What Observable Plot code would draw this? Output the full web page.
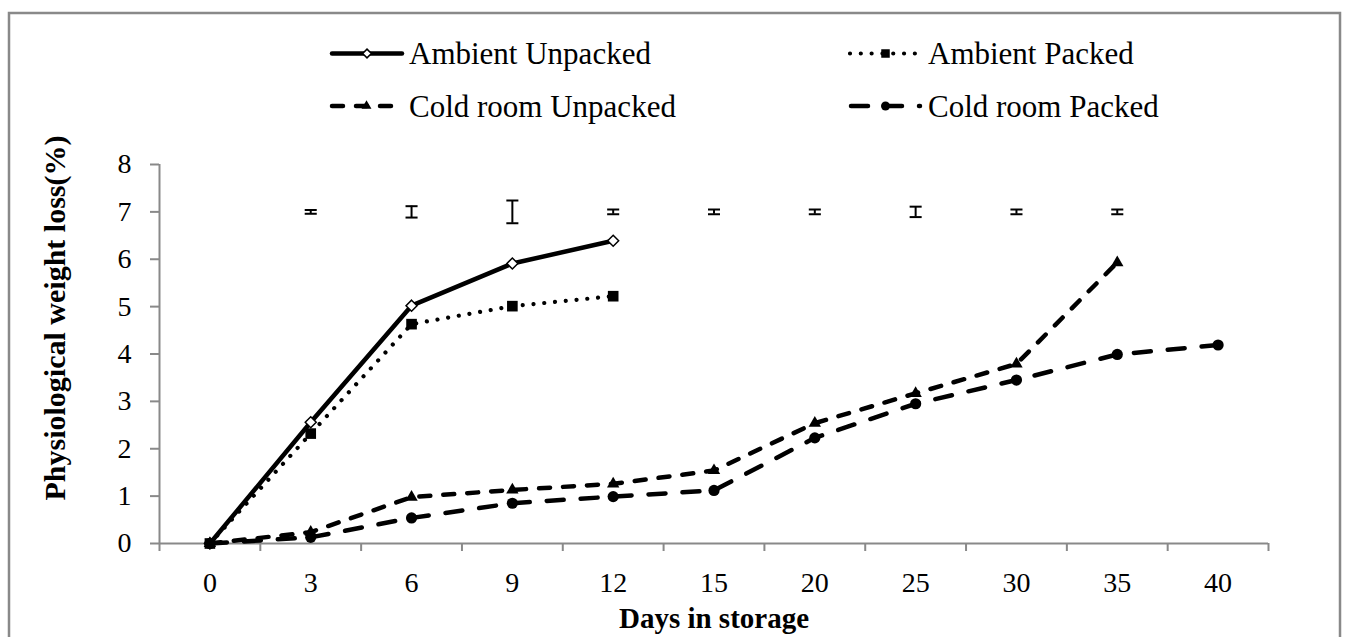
<!DOCTYPE html>
<html>
<head>
<meta charset="utf-8">
<script src="https://cdn.jsdelivr.net/npm/d3@7"></script>
<script src="https://cdn.jsdelivr.net/npm/@observablehq/plot@0.6"></script>
<style>
html, body { margin: 0; padding: 0; background: #fff; }
#chart { position: relative; width: 1348px; height: 637px; overflow: hidden; }
</style>
</head>
<body>
<div id="chart"></div>
<script>
// ---- data ----
const days = ["0", "3", "6", "9", "12", "15", "20", "25", "30", "35", "40"];
const seriesNames = ["Ambient Unpacked", "Ambient Packed", "Cold room Unpacked", "Cold room Packed"];
const ambientUnpacked = [0, 2.56, 5.02, 5.91, 6.39];
const ambientPacked = [0, 2.32, 4.63, 5.01, 5.22];
const coldUnpacked = [0, 0.24, 0.98, 1.13, 1.26, 1.54, 2.54, 3.17, 3.79, 5.93];
const coldPacked = [0, 0.13, 0.54, 0.85, 0.99, 1.12, 2.23, 2.95, 3.45, 3.99, 4.19];
const errDays = ["3", "6", "9", "12", "15", "20", "25", "30", "35"];
const errCenter = [7, 7, 7, 7, 7, 7, 7, 7, 7];
const errHalf = [0.04, 0.12, 0.24, 0.05, 0.05, 0.05, 0.11, 0.05, 0.05];
const yTicks = [0, 1, 2, 3, 4, 5, 6, 7, 8];
const xTitle = "Days in storage";
const yTitle = "Physiological weight loss(%)";

// ---- styles ----
const W = 1348, H = 637;
const gray = "#898989";
const serif = "'Liberation Serif', 'Times New Roman', serif";
const seriesValues = [ambientUnpacked, ambientPacked, coldUnpacked, coldPacked];
const seriesStyle = [
  {dash: null, width: 4.5, cap: "round", symbol: "diamond2", d3sym: d3.symbolDiamond2, fill: "white", r: 4.95, msw: 1.5},
  {dash: "0.01,10.8", width: 4.2, cap: "round", symbol: "square", d3sym: d3.symbolSquare, fill: "black", r: 6.0, msw: 0},
  {dash: "11,13", width: 4.5, cap: "round", symbol: "triangle", d3sym: d3.symbolTriangle, fill: "black", r: 4.6, msw: 0},
  {dash: "17,17", width: 4.5, cap: "round", symbol: "circle", d3sym: d3.symbolCircle, fill: "black", r: 5.6, msw: 0}
];

const xi = d => days.indexOf(d.day);
const seriesRows = seriesValues.map((vals, s) =>
  vals.map((v, i) => ({series: seriesNames[s], day: days[i], value: v})));
const errRows = errDays.map((d, i) => ({day: d, lo: errCenter[i] - errHalf[i], hi: errCenter[i] + errHalf[i]}));
const capRows = errRows.flatMap(e => [{day: e.day, y: e.lo}, {day: e.day, y: e.hi}]);
const capSymbol = {draw(ctx, size) { const w = Math.sqrt(size) / 2; ctx.moveTo(-w, 0); ctx.lineTo(w, 0); }};

const marks = [
  // axis lines
  Plot.ruleY([0], {stroke: gray, strokeWidth: 2}),
  Plot.ruleX([-0.5], {y1: 0, y2: 8, stroke: gray, strokeWidth: 2}),
  Plot.axisY({ticks: yTicks, tickSize: 9, tickPadding: 19, stroke: gray, strokeWidth: 2, fill: "black", fontSize: 28, label: null}),
  // category boundary ticks
  Plot.axisX({ticks: d3.range(days.length + 1).map(i => i - 0.5), tickSize: 8, tickFormat: () => "", stroke: gray, strokeWidth: 2, label: null}),
  // category labels
  Plot.axisX({ticks: d3.range(days.length), tickSize: 0, tickPadding: 29, tickFormat: i => days[i], fill: "black", fontSize: 28, label: null}),
];

seriesRows.forEach((rows, s) => {
  const st = seriesStyle[s];
  marks.push(Plot.line(rows, {
    x: xi, y: "value", stroke: "black", strokeWidth: st.width,
    strokeDasharray: st.dash || undefined, strokeLinecap: st.cap, strokeLinejoin: "round"
  }));
});
seriesRows.forEach((rows, s) => {
  const st = seriesStyle[s];
  marks.push(Plot.dot(rows, {
    x: xi, y: "value", symbol: st.symbol, r: st.r, fill: st.fill,
    stroke: st.msw ? "black" : "none", strokeWidth: st.msw || undefined
  }));
});

marks.push(
  Plot.ruleX(errRows, {x: xi, y1: "lo", y2: "hi", stroke: "black", strokeWidth: 2}),
  Plot.dot(capRows, {x: xi, y: "y", symbol: capSymbol, r: 6.8, fill: "none", stroke: "black", strokeWidth: 2}),
  Plot.text([xTitle], {text: d => d, frameAnchor: "bottom", textAnchor: "middle", lineAnchor: "bottom", dy: 84, fontWeight: "bold", fontSize: 29, fill: "black"}),
  Plot.text([yTitle], {text: d => d, frameAnchor: "left", textAnchor: "middle", lineAnchor: "middle", rotate: -90, dx: -104, dy: -36, fontWeight: "bold", fontSize: 30, fill: "black"})
);

const plot = Plot.plot({
  width: W,
  height: H,
  marginLeft: 159,
  marginRight: 80,
  marginTop: 164,
  marginBottom: 94,
  x: {type: "linear", domain: [-0.5, days.length - 0.5]},
  y: {domain: [0, 8]},
  style: {fontFamily: serif, fontSize: "28px", color: "black", background: "white", overflow: "visible"},
  marks
});

document.getElementById("chart").appendChild(plot);

// ---- border and legend ----
const svg = d3.select(plot);
svg.append("rect")
  .attr("x", 9).attr("y", 13).attr("width", 1331).attr("height", 660)
  .attr("fill", "none").attr("stroke", gray).attr("stroke-width", 2.5);

const legendLayout = [
  {x0: 332, x1: 402, tx: 409, y: 53.5},
  {x0: 850, x1: 921, tx: 928, y: 53.5},
  {x0: 332, x1: 401, tx: 409, y: 106},
  {x0: 851, x1: 920, tx: 928, y: 106}
];
const lg = svg.append("g").attr("class", "legend").attr("text-anchor", "start");
seriesNames.forEach((name, s) => {
  const st = seriesStyle[s], L = legendLayout[s];
  lg.append("line")
    .attr("x1", L.x0).attr("x2", L.x1).attr("y1", L.y).attr("y2", L.y)
    .attr("stroke", "black").attr("stroke-width", st.width)
    .attr("stroke-linecap", st.cap)
    .attr("stroke-dasharray", st.dash);
  const rr = st.r * 0.8;
  lg.append("path")
    .attr("transform", `translate(${(L.x0 + L.x1) / 2},${L.y})`)
    .attr("d", d3.symbol(st.d3sym, rr * rr * Math.PI)())
    .attr("fill", st.fill)
    .attr("stroke", st.msw ? "black" : "none")
    .attr("stroke-width", st.msw || 0);
  lg.append("text")
    .attr("x", L.tx).attr("y", L.y).attr("dy", "0.35em")
    .attr("text-anchor", "start")
    .attr("font-family", serif).attr("font-size", 31).attr("fill", "black")
    .text(name);
});
</script>
</body>
</html>
